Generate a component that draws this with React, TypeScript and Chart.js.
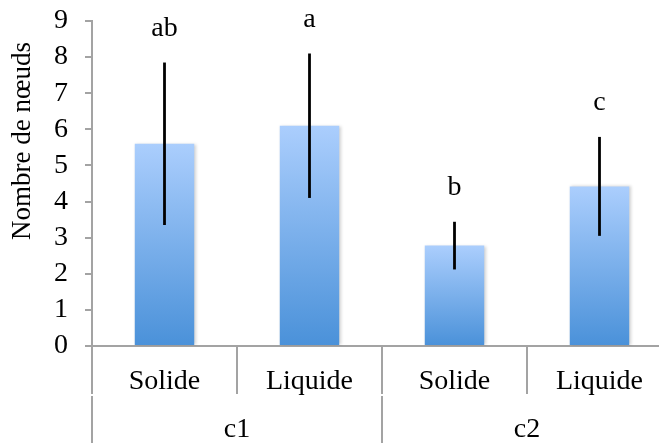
import React, { useEffect, useRef } from 'react';
import { Chart, registerables } from 'chart.js';

Chart.register(...registerables);

const categories = ['Solide', 'Liquide', 'Solide', 'Liquide'];
const groups = ['c1', 'c2'];
const means = [5.6, 6.1, 2.78, 4.42];
const errors = [2.25, 2.0, 0.66, 1.37];
const letters = ['ab', 'a', 'b', 'c'];
const yMin = 0;
const yMax = 9;
const yTitle = 'Nombre de nœuds';

const FONT = '"Liberation Serif", "Times New Roman", serif';
const FS = 28;
const AXIS_GRAY = '#a3a3a3';

const overlay = {
  id: 'overlay',
  beforeDatasetsDraw(chart: any) {
    const ctx = chart.ctx;
    ctx.save();
    ctx.shadowColor = 'rgba(0,0,0,0.18)';
    ctx.shadowBlur = 3;
    ctx.shadowOffsetX = 1.5;
    ctx.shadowOffsetY = 0;
  },
  afterDatasetsDraw(chart: any) {
    const ctx = chart.ctx;
    ctx.restore();
    const x = chart.scales.x;
    const y = chart.scales.y;
    ctx.save();
    ctx.strokeStyle = '#000';
    ctx.lineWidth = 2.8;
    means.forEach((m, i) => {
      const px = x.getPixelForValue(i);
      ctx.beginPath();
      ctx.moveTo(px, y.getPixelForValue(m + errors[i]));
      ctx.lineTo(px, y.getPixelForValue(m - errors[i]));
      ctx.stroke();
    });
    ctx.fillStyle = '#000';
    ctx.font = `${FS}px ${FONT}`;
    ctx.textAlign = 'center';
    ctx.textBaseline = 'middle';
    means.forEach((m, i) => {
      const px = x.getPixelForValue(i);
      ctx.fillText(letters[i], px, y.getPixelForValue(m + errors[i]) - 34);
    });
    ctx.restore();
  },
  afterDraw(chart: any) {
    const ctx = chart.ctx;
    const x = chart.scales.x;
    const ca = chart.chartArea;
    const w = (ca.right - ca.left) / categories.length;
    const bottom = ca.bottom;
    const mid = bottom + 49;
    const end = chart.height;
    ctx.save();
    ctx.strokeStyle = AXIS_GRAY;
    ctx.lineWidth = 2;
    for (let k = 0; k <= categories.length; k++) {
      const px = Math.round(ca.left + k * w);
      ctx.beginPath();
      ctx.moveTo(px, bottom);
      ctx.lineTo(px, mid - 1);
      if (k % 2 === 0) {
        ctx.moveTo(px, mid + 1);
        ctx.lineTo(px, end);
      }
      ctx.stroke();
    }
    ctx.fillStyle = '#000';
    ctx.font = `${FS}px ${FONT}`;
    ctx.textAlign = 'center';
    ctx.textBaseline = 'middle';
    groups.forEach((g, gi) => {
      const cx = (x.getPixelForValue(gi * 2) + x.getPixelForValue(gi * 2 + 1)) / 2;
      ctx.fillText(g, cx, 430);
    });
    ctx.font = `27px ${FONT}`;
    ctx.translate(23, 141);
    ctx.rotate(-Math.PI / 2);
    ctx.fillText(yTitle, 0, 0);
    ctx.restore();
  },
};

export default function App() {
  const ref = useRef<HTMLCanvasElement | null>(null);
  useEffect(() => {
    if (!ref.current) return;
    const chart = new Chart(ref.current, {
      type: 'bar',
      data: {
        labels: categories,
        datasets: [
          {
            data: means,
            backgroundColor: (c: any) => {
              const ch = c.chart;
              if (!ch.chartArea || c.type !== 'data') return '#7fb0ea';
              const y = ch.scales.y;
              const top = y.getPixelForValue(means[c.dataIndex]);
              const bot = y.getPixelForValue(0);
              const g = ch.ctx.createLinearGradient(0, top, 0, bot);
              g.addColorStop(0, '#abcefd');
              g.addColorStop(1, '#4a91d9');
              return g;
            },
            borderWidth: 0,
            barPercentage: 0.41,
            categoryPercentage: 1,
          },
        ],
      },
      options: {
        responsive: false,
        animation: false,
        layout: { padding: { top: 21, right: 8, left: 0, bottom: 0 } },
        plugins: { legend: { display: false }, tooltip: { enabled: false } },
        scales: {
          x: {
            afterFit: (s: any) => {
              s.height = 97;
              s.paddingLeft = 0;
              s.paddingRight = 0;
            },
            grid: { display: false },
            border: { display: true, color: AXIS_GRAY, width: 2 },
            ticks: { color: '#000', font: { family: FONT, size: FS }, padding: 11, autoSkip: false, maxRotation: 0 },
          },
          y: {
            min: yMin,
            max: yMax,
            afterFit: (s: any) => {
              s.width = 92;
              s.paddingTop = 0;
              s.paddingBottom = 0;
            },
            grid: { drawOnChartArea: false, color: AXIS_GRAY, lineWidth: 2, tickLength: 7 },
            border: { color: AXIS_GRAY, width: 2 },
            ticks: { stepSize: 1, autoSkip: false, color: '#000', font: { family: FONT, size: FS }, padding: 17 },
          },
        },
      },
      plugins: [overlay],
    });
    return () => chart.destroy();
  }, []);
  return (
    <div style={{ position: 'absolute', left: 0, top: 0, width: 659, height: 443, overflow: 'hidden', background: '#fff' }}>
      <canvas ref={ref} width={680} height={443} style={{ display: 'block', width: 680, height: 443 }} />
    </div>
  );
}
